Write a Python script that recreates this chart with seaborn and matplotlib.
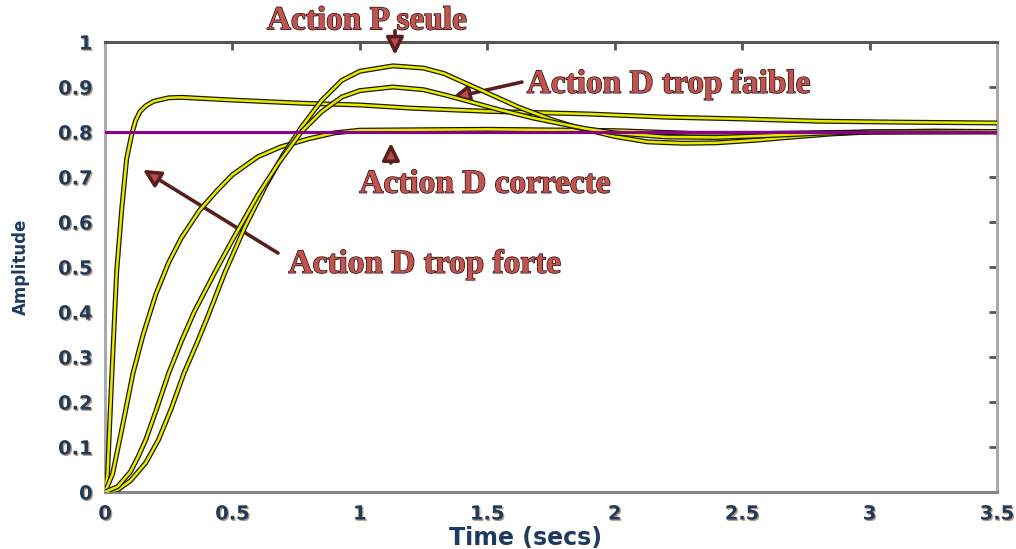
import numpy as np
import pandas as pd
import matplotlib
matplotlib.use('Agg')
import matplotlib.pyplot as plt
import matplotlib.patheffects as pe
import seaborn as sns

# step responses
t_forte = [0, 0.01, 0.027, 0.046, 0.066, 0.085, 0.105, 0.12, 0.137, 0.16, 0.19, 0.25, 0.3,
           0.5, 0.77, 1.0, 1.2, 1.5, 1.9, 2.2, 2.5, 2.8, 3.1, 3.5]
y_forte = [0, 0.04, 0.26, 0.49, 0.63, 0.74, 0.795, 0.825, 0.845, 0.858, 0.868, 0.876, 0.877,
           0.871, 0.864, 0.86, 0.853, 0.846, 0.84, 0.833, 0.829, 0.824, 0.822, 0.82]

t_correcte = [0, 0.03, 0.07, 0.11, 0.15, 0.2, 0.25, 0.3, 0.37, 0.44, 0.5, 0.6, 0.69, 0.8,
              0.9, 1.0, 1.5, 2.0, 2.3, 2.6, 3.0, 3.5]
y_correcte = [0, 0.04, 0.15, 0.264, 0.35, 0.44, 0.51, 0.565, 0.625, 0.67, 0.705, 0.745,
              0.767, 0.785, 0.798, 0.804, 0.806, 0.803, 0.797, 0.797, 0.8, 0.8]

t_pseule = [0, 0.05, 0.1, 0.16, 0.21, 0.26, 0.31, 0.36, 0.4, 0.47, 0.55, 0.63, 0.7, 0.77,
            0.85, 0.93, 1.0, 1.13, 1.25, 1.33, 1.46, 1.62, 1.75, 1.84, 2.0, 2.13, 2.27,
            2.4, 2.56, 2.7, 2.86, 3.0, 3.25, 3.5]
y_pseule = [0, 0.005, 0.025, 0.065, 0.116, 0.185, 0.264, 0.33, 0.385, 0.487, 0.59, 0.68,
            0.75, 0.81, 0.87, 0.915, 0.935, 0.947, 0.942, 0.93, 0.897, 0.856, 0.828,
            0.812, 0.79, 0.778, 0.775, 0.776, 0.782, 0.789, 0.796, 0.8, 0.802, 0.801]

t_faible = [0, 0.05, 0.1, 0.13, 0.16, 0.2, 0.25, 0.3, 0.35, 0.43, 0.5, 0.6, 0.68, 0.77,
            0.85, 0.93, 1.0, 1.13, 1.25, 1.35, 1.55, 1.68, 1.88, 2.0, 2.2, 2.4, 2.6, 2.8,
            3.0, 3.5]
y_faible = [0, 0.012, 0.045, 0.078, 0.116, 0.18, 0.264, 0.335, 0.4, 0.487, 0.56, 0.66,
            0.73, 0.8, 0.845, 0.878, 0.892, 0.9, 0.894, 0.88, 0.849, 0.831, 0.808, 0.798,
            0.789, 0.788, 0.792, 0.797, 0.8, 0.801]

consigne = 0.8
x_ticks = [0, 0.5, 1, 1.5, 2, 2.5, 3, 3.5]
x_ticklabels = ['0', '0.5', '1', '1.5', '2', '2.5', '3', '3.5']
y_ticks = [0, 0.1, 0.2, 0.3, 0.4, 0.5, 0.6, 0.7, 0.8, 0.9, 1]
y_ticklabels = ['0', '0.1', '0.2', '0.3', '0.4', '0.5', '0.6', '0.7', '0.8', '0.9', '1']

# (label, text x, y, ha, arrow tail, arrow head)
notes = [
    ('Action P seule', 1.028, 1.047, 'center', (1.138, 1.025), (1.138, 0.971)),
    ('Action D trop faible', 1.655, 0.906, 'left', (1.636, 0.911), (1.361, 0.876)),
    ('Action D correcte', 1.491, 0.684, 'center', (1.122, 0.731), (1.122, 0.776)),
    ('Action D trop forte', 1.255, 0.506, 'center', (0.679, 0.531), (0.149, 0.716)),
]

sns.set_style('white')
plt.rcParams['font.family'] = ['DejaVu Sans']

frames = []
for name, t, y in [('forte', t_forte, y_forte), ('correcte', t_correcte, y_correcte),
                   ('pseule', t_pseule, y_pseule), ('faible', t_faible, y_faible)]:
    frames.append(pd.DataFrame({'t': t, 'amp': y, 'curve': name}))
df = pd.concat(frames, ignore_index=True)

fig = plt.figure(figsize=(10.16, 5.49), dpi=100)
ax = fig.add_axes([0.1033, 0.1038, 0.8780, 0.8197])

yellow = '#eaea00'
sns.lineplot(data=df, x='t', y='amp', hue='curve', estimator=None, legend=False,
             palette={k: yellow for k in df['curve'].unique()}, linewidth=1.8, ax=ax)
for line in ax.lines:
    line.set_zorder(4)
    line.set_path_effects([pe.Stroke(linewidth=3.6, foreground='#1a1a00'), pe.Normal()])

ax.axhline(consigne, color='#8b008b', linewidth=2.2, zorder=5)

ax.set_xlim(0, 3.5)
ax.set_ylim(0, 1)
ax.set_xticks(x_ticks)
ax.set_xticklabels(x_ticklabels)
ax.set_yticks(y_ticks)
ax.set_yticklabels(y_ticklabels)
ax.tick_params(direction='in', length=6, width=2, color='#555555',
               top=True, right=True, labelsize=14, labelcolor='#1e3a5f', pad=9)
for lab in ax.get_xticklabels() + ax.get_yticklabels():
    lab.set_fontweight('bold')
    lab.set_path_effects([pe.withSimplePatchShadow(offset=(1, -1), shadow_rgbFace='#8a5a20', alpha=0.6)])

ax.spines['top'].set_color('#555555')
ax.spines['bottom'].set_color('#888888')
ax.spines['left'].set_color('#aaaaaa')
ax.spines['right'].set_color('#aaaaaa')
for s in ax.spines.values():
    s.set_linewidth(2.2)

ax.set_xlabel('Time (secs)', fontsize=17, fontweight='bold', color='#1e3a5f', labelpad=2)
ax.xaxis.label.set_x(0.472)
ax.set_ylabel('Amplitude', fontsize=12, fontweight='bold', color='#1e3a5f', labelpad=20)

txt_fx = [pe.Stroke(linewidth=1.0, foreground='#2a0a0a'), pe.Normal()]
for label, tx, ty, ha, tail, head in notes:
    ax.text(tx, ty, label, ha=ha, va='center', fontsize=24, fontweight='bold',
            family=['Liberation Serif', 'DejaVu Serif'], color='#c25450',
            path_effects=txt_fx, clip_on=False, zorder=10)
    ax.annotate('', xy=head, xytext=tail, annotation_clip=False, zorder=3,
                arrowprops=dict(arrowstyle='-|>', fc='#b84c4c', ec='#5a1e1e', lw=2.6,
                                mutation_scale=26, shrinkA=0, shrinkB=0))

fig.savefig('out.png', dpi=100)
plt.close(fig)
